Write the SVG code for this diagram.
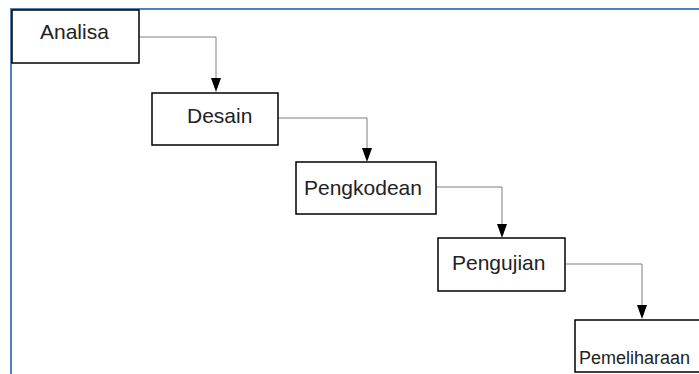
<svg xmlns="http://www.w3.org/2000/svg" width="699" height="374" viewBox="0 0 699 374">
  <style>
    .box { fill: #ffffff; stroke: #000000; stroke-width: 1.5; }
    .lbl { font-family: "Liberation Sans", Arial, sans-serif; font-size: 21px; fill: #222222; }
    .conn { fill: none; stroke: #7f7f7f; stroke-width: 1; }
    .head { fill: #000000; }
    .frame { fill: none; stroke: #4f81bd; stroke-width: 2; }
  </style>
  <rect width="699" height="374" fill="#ffffff"/>
  <path class="frame" d="M11,374 L11,9 L699,9"/>

  <g id="connectors">
    <path class="conn" d="M139,37 L216,37 L216,78"/>
    <path class="head" d="M211,78 L221,78 L216,92 Z"/>
    <path class="conn" d="M278,118 L367,118 L367,148"/>
    <path class="head" d="M362,148 L372,148 L367,162 Z"/>
    <path class="conn" d="M436,187 L502,187 L502,224"/>
    <path class="head" d="M497,224 L507,224 L502,238 Z"/>
    <path class="conn" d="M565,264 L642,264 L642,305"/>
    <path class="head" d="M637,305 L647,305 L642,319 Z"/>
  </g>

  <g id="analisa">
    <rect class="box" x="12" y="10" width="127" height="53"/>
    <text class="lbl" x="40" y="39">Analisa</text>
  </g>
  <g id="desain">
    <rect class="box" x="152" y="93" width="126" height="52"/>
    <text class="lbl" x="187" y="123">Desain</text>
  </g>
  <g id="pengkodean">
    <rect class="box" x="296" y="162" width="140" height="52"/>
    <text class="lbl" x="304" y="195">Pengkodean</text>
  </g>
  <g id="pengujian">
    <rect class="box" x="438" y="238" width="127" height="53"/>
    <text class="lbl" x="452" y="270">Pengujian</text>
  </g>
  <g id="pemeliharaan">
    <rect class="box" x="575" y="320" width="140" height="52"/>
    <text class="lbl" x="579" y="364" style="font-size:18px">Pemeliharaan</text>
  </g>
</svg>
